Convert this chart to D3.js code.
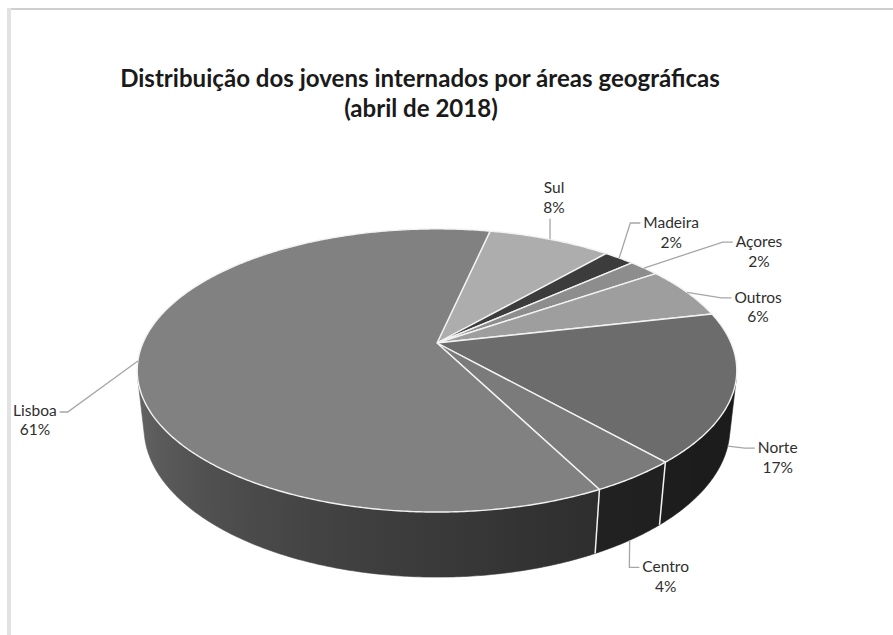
<!DOCTYPE html>
<html>
<head>
<meta charset="utf-8">
<script src="https://cdn.jsdelivr.net/npm/d3@7"></script>
<style>
  body { margin: 0; background: #ffffff; }
  svg { display: block; }
</style>
</head>
<body>
<svg id="chart" width="893" height="635"></svg>
<script>
// ---- data ----
const categories = ["Sul", "Madeira", "Açores", "Outros", "Norte", "Centro", "Lisboa"];
const shares = [8, 2, 2, 6, 17, 4, 61];
const titleLines = ["Distribuição dos jovens internados por áreas geográficas", "(abril de 2018)"];

// ---- styles ----
const topColors  = ["#adadad", "#3c3c3c", "#8d8d8d", "#9e9e9e", "#6c6c6c", "#7b7b7b", "#818181"];
const wallLight  = ["#707070", "#2a2a2a", "#505050", "#555555", "#333333", "#333333", "#707070"];
const wallDark   = ["#303030", "#141414", "#222222", "#262626", "#1b1b1b", "#1e1e1e", "#232323"];
const labelColor = "#2e2e2e";
const leaderColor = "#a6a6a6";
const fontFamily = "Lato, 'Open Sans', sans-serif";

// label placement relative to each slice's anchor point, and where the anchor sits
const labelOffsets = [[4, -52], [52, -36], [115, -27], [71, 4.5], [50, 1], [36, 26], [-103, 49]];
const anchorLevels = [0, 0, 0, 0, 1, 1, 0];

const W = 893, H = 635;
const svg = d3.select("#chart");
svg.append("rect").attr("width", W).attr("height", H).attr("fill", "#ffffff");

// chart frame
svg.append("line").attr("x1", 8).attr("x2", W).attr("y1", 9).attr("y2", 9)
  .attr("stroke", "#cfcfcf").attr("stroke-width", 2);
svg.append("line").attr("x1", 9).attr("x2", 9).attr("y1", 8).attr("y2", H)
  .attr("stroke", "#e2e2e2").attr("stroke-width", 4);

// ---- title ----
const title = svg.append("g").attr("font-family", fontFamily).attr("font-weight", 700)
  .attr("fill", "#1a1a1a").attr("text-anchor", "middle");
const t1 = title.append("text").attr("x", 420).attr("y", 77).attr("dominant-baseline", "central")
  .attr("font-size", 20).text(titleLines[0]);
const fit = 600 / t1.node().getComputedTextLength();
const titleSize = 20 * fit;
t1.attr("font-size", titleSize);
title.append("text").attr("x", 421).attr("y", 107).attr("dominant-baseline", "central")
  .attr("font-size", titleSize).text(titleLines[1]);

// ---- 3D pie: camera looking down on a short cylinder ----
const cam = { cx: 437, cy: 343, focal: 1344, dist: 4.57, pitch: 27.6 * Math.PI / 180, depth: 0.2215 };
const sP = Math.sin(cam.pitch), cP = Math.cos(cam.pitch);

// theta: d3.pie angle (0 = far side, clockwise); level 0 = top face, 1 = bottom face
function project(theta, level, r = 1) {
  const x = r * Math.sin(theta), z = -r * Math.cos(theta), y = -level * cam.depth;
  const zc = cam.dist - y * sP - z * cP;
  return [cam.cx + cam.focal * x / zc, cam.cy + cam.focal * (z * sP - y * cP) / zc];
}
function arcPoints(a0, a1, level) {
  const n = Math.max(2, Math.ceil(Math.abs(a1 - a0) / (Math.PI / 360)));
  return d3.range(n + 1).map(i => project(a0 + (a1 - a0) * i / n, level));
}

const startAngle = 12.4 * Math.PI / 180;
const pie = d3.pie().sort(null).value(d => d)
  .startAngle(startAngle).endAngle(startAngle + 2 * Math.PI);
const arcs = pie(shares);

// the outer wall faces the camera where z > 1 / (dist * cos(pitch))
const zMin = 1 / (cam.dist * cP);
const visA0 = Math.acos(-zMin), visA1 = 2 * Math.PI - Math.acos(-zMin);

const defs = svg.append("defs");
const line = d3.line();
const walls = svg.append("g");
const tops = svg.append("g");

arcs.forEach((a, i) => {
  const w0 = Math.max(a.startAngle, visA0), w1 = Math.min(a.endAngle, visA1);
  if (w1 <= w0) return;
  const topPts = arcPoints(w0, w1, 0);
  const botPts = arcPoints(w0, w1, 1).reverse();
  const xa = project(w0, 0)[0], xb = project(w1, 0)[0];
  const grad = defs.append("linearGradient").attr("id", "wall" + i)
    .attr("gradientUnits", "userSpaceOnUse")
    .attr("x1", xa).attr("x2", xb).attr("y1", 0).attr("y2", 0);
  const shade = d3.interpolateRgb(wallLight[i], wallDark[i]);
  d3.range(13).forEach(k => {
    const th = w0 + (w1 - w0) * k / 12;
    const xp = project(th, 0)[0];
    const t = Math.sqrt(Math.max(0, (1 + Math.sin(th)) / 2));
    grad.append("stop").attr("offset", (xp - xa) / (xb - xa)).attr("stop-color", shade(t));
  });
  walls.append("path").attr("d", line(topPts.concat(botPts)) + "Z")
    .attr("fill", `url(#wall${i})`).attr("stroke", `url(#wall${i})`).attr("stroke-width", 0.6);
});

// slice edges running down the wall
arcs.forEach(a => {
  const th = a.startAngle % (2 * Math.PI);
  if (th > visA0 && th < visA1) {
    walls.append("path").attr("d", line([project(th, 0), project(th, 1)]))
      .attr("stroke", "#f2f2f2").attr("stroke-width", 1.5).attr("fill", "none");
  }
});

// top faces
const apex = project(0, 0, 0);
arcs.forEach((a, i) => {
  const pts = [apex].concat(arcPoints(a.startAngle, a.endAngle, 0));
  tops.append("path").attr("d", line(pts) + "Z")
    .attr("fill", topColors[i]).attr("stroke", "#f2f2f2").attr("stroke-width", 1.4)
    .attr("stroke-linejoin", "round");
});

// ---- data labels with leader lines ----
const labels = svg.append("g").attr("font-family", fontFamily).attr("font-size", 15.5)
  .attr("fill", labelColor).attr("text-anchor", "middle");
const lineGap = 19.5;

arcs.forEach((a, i) => {
  const mid = (a.startAngle + a.endAngle) / 2;
  const anchor = project(mid, anchorLevels[i]);
  const lx = anchor[0] + labelOffsets[i][0], ly = anchor[1] + labelOffsets[i][1];
  const name = labels.append("text").attr("x", lx).attr("y", ly)
    .attr("dominant-baseline", "central").text(categories[i]);
  labels.append("text").attr("x", lx).attr("y", ly + lineGap)
    .attr("dominant-baseline", "central").text(a.value + "%");
  const half = name.node().getComputedTextLength() / 2;
  let pts;
  if (Math.abs(labelOffsets[i][0]) < 20 && labelOffsets[i][1] < 0) {
    pts = [anchor, [anchor[0], ly + lineGap + 12]];
  } else if (labelOffsets[i][0] > 0) {
    const end = [lx - half - 3, ly + 1];
    pts = [anchor, [end[0] - 10, end[1]], end];
  } else {
    const end = [lx + half + 3, ly + 2];
    pts = [anchor, [end[0] + 8, end[1]], end];
  }
  svg.append("path").attr("d", line(pts)).attr("fill", "none")
    .attr("stroke", leaderColor).attr("stroke-width", 1.3);
});
</script>
</body>
</html>
